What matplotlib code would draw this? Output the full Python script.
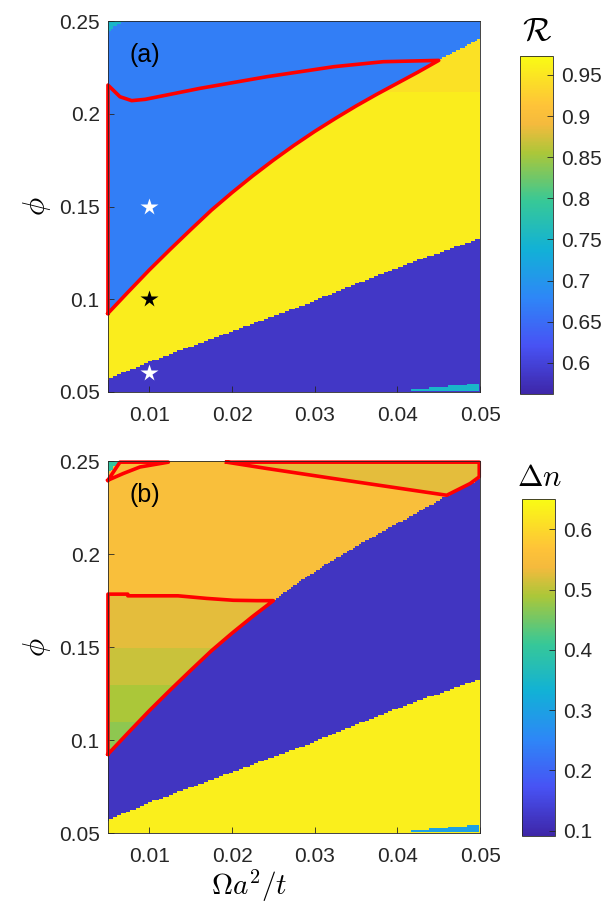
import numpy as np
import matplotlib
matplotlib.use('Agg')
import matplotlib.pyplot as plt
from matplotlib.colors import LinearSegmentedColormap
from matplotlib.path import Path

plt.rcParams['font.family'] = ['Liberation Sans', 'DejaVu Sans']
plt.rcParams['mathtext.fontset'] = 'cm'

# parula-like colormap
parula = LinearSegmentedColormap.from_list('parula', [
    (0.000, (0.2422, 0.1504, 0.6603)),
    (0.143, (0.2810, 0.3228, 0.9579)),
    (0.286, (0.1786, 0.5289, 0.9682)),
    (0.429, (0.0689, 0.6948, 0.8394)),
    (0.571, (0.2161, 0.7843, 0.5923)),
    (0.714, (0.6720, 0.7793, 0.2227)),
    (0.800, (0.9600, 0.7300, 0.2400)),
    (0.857, (0.9970, 0.7659, 0.2199)),
    (1.000, (0.9769, 0.9839, 0.0805))])

#%% data
omega = np.linspace(0.005, 0.05, 181)
phi = np.linspace(0.05, 0.25, 201)

# phase boundaries (same in both panels)
upper_x = [0.005, 0.0075, 0.01, 0.0125, 0.015, 0.0175, 0.02, 0.0225, 0.025, 0.0275,
           0.03, 0.0325, 0.035, 0.0375, 0.04, 0.0425, 0.045, 0.0475, 0.05]
upper_y = [0.0924, 0.1042, 0.1158, 0.1268, 0.1375, 0.148, 0.1575, 0.1665, 0.175, 0.183,
           0.1905, 0.1975, 0.2042, 0.2105, 0.2165, 0.2225, 0.2288, 0.2348, 0.2407]
lower_x = [0.005, 0.01, 0.01613, 0.022, 0.02823, 0.034, 0.0403, 0.045, 0.05]
lower_y = [0.0568, 0.0663, 0.0763, 0.086, 0.096, 0.1065, 0.1175, 0.125, 0.1329]

# panel (a): R per region
R_top = 0.67
R_mid = 0.958
R_mid_corner = 0.945   # orange-ish tint, top right of the yellow band
R_low = 0.585
R_corner = 0.75
strip_x = [0.0415, 0.0415, 0.045, 0.05, 0.05]
strip_y = [0.05, 0.0511, 0.0525, 0.0547, 0.05]
corner_x = [0.005, 0.005, 0.0058, 0.0072]
corner_y = [0.25, 0.2435, 0.2475, 0.25]

# panel (b): dn per region
dn_top = 0.553
dn_mid = 0.12
dn_low = 0.632
dn_strip = 0.30
dn_corner = 0.40
dn_box = 0.527
dn_tri = [0.527, 0.51, 0.49, 0.47]
tri_cut = [0.15, 0.13, 0.11]

# red contours (a): left edge, top edge, then back along the upper boundary
ca_top_x = [0.005, 0.005, 0.00645, 0.00787, 0.0095, 0.0161, 0.0242, 0.0323, 0.0383, 0.045]
ca_top_y = [0.0924, 0.2155, 0.2092, 0.2071, 0.2078, 0.2137, 0.22, 0.2254, 0.2281, 0.2288]
cb1_x = [0.005, 0.00645, 0.0123, 0.00887, 0.00685, 0.005]
cb1_y = [0.2398, 0.2495, 0.2495, 0.2469, 0.2434, 0.2398]
cb2_x = [0.01935, 0.0499, 0.0499, 0.0488, 0.04597, 0.03226, 0.0242, 0.01935]
cb2_y = [0.2495, 0.2495, 0.2416, 0.238, 0.2317, 0.2407, 0.2461, 0.2495]
cb3_top_x = [0.005, 0.005, 0.0074, 0.0074, 0.01347, 0.01694, 0.02016, 0.023, 0.025]
cb3_top_y = [0.0924, 0.1785, 0.1785, 0.1776, 0.1776, 0.1762, 0.1752, 0.175, 0.175]

n_a = upper_x.index(0.045)
ca_x = ca_top_x + upper_x[:n_a + 1][::-1]
ca_y = ca_top_y + upper_y[:n_a + 1][::-1]
n_b = upper_x.index(0.025)
cb3_x = cb3_top_x + upper_x[:n_b][::-1]
cb3_y = cb3_top_y + upper_y[:n_b][::-1]

#%% build maps
X, Y = np.meshgrid(omega, phi)
pts = np.column_stack([X.ravel(), Y.ravel()])

def inside(xs, ys):
    return Path(np.column_stack([xs, ys])).contains_points(pts).reshape(X.shape)

mid_mask = inside(lower_x + upper_x[::-1], lower_y + upper_y[::-1])
low_mask = inside(lower_x + [0.06, 0.06, 0.0], lower_y + [0.1329, 0.0, 0.0])
strip_mask = inside(strip_x, strip_y)
corner_mask = inside(corner_x, corner_y)

Ra = np.full(X.shape, R_top)
Ra[mid_mask] = R_mid
Ra[mid_mask & (Y > 0.212)] = R_mid_corner
Ra[low_mask] = R_low
Ra[strip_mask] = R_corner
Ra[corner_mask] = R_corner

Db = np.full(X.shape, dn_top)
Db[inside(cb2_x, cb2_y)] = dn_box
tri = inside(cb3_x, cb3_y)
Db[tri] = dn_tri[0]
for cut, val in zip(tri_cut, dn_tri[1:]):
    Db[tri & (Y < cut)] = val
Db[mid_mask] = dn_mid
Db[low_mask] = dn_low
Db[strip_mask] = dn_strip
Db[corner_mask] = dn_corner

#%% plot
fig = plt.figure(figsize=(6.1, 9.09), dpi=100)
ax_a = fig.add_axes([0.177, 0.5688, 0.610, 0.408])
ax_b = fig.add_axes([0.177, 0.0836, 0.610, 0.409])
cax_a = fig.add_axes([0.8525, 0.5662, 0.0541, 0.3722])
cax_b = fig.add_axes([0.8557, 0.0806, 0.0541, 0.3701])

ima = ax_a.pcolormesh(omega, phi, Ra, cmap=parula, vmin=0.5616, vmax=0.973, shading='nearest')
imb = ax_b.pcolormesh(omega, phi, Db, cmap=parula, vmin=0.0917, vmax=0.65, shading='nearest')

ax_a.plot(ca_x, ca_y, color='red', lw=2.6, clip_on=False, solid_joinstyle='round')
for cx, cy in [(cb1_x, cb1_y), (cb2_x, cb2_y), (cb3_x, cb3_y)]:
    ax_b.plot(cx, cy, color='red', lw=2.6, clip_on=False, solid_joinstyle='round')

ax_a.plot([0.01], [0.15], marker='*', color='white', ms=13, mec='none')
ax_a.plot([0.01], [0.10], marker='*', color='black', ms=13, mec='none')
ax_a.plot([0.01], [0.06], marker='*', color='white', ms=13, mec='none')

ax_a.text(0.0095, 0.2316, '(a)', fontsize=18, ha='center', va='center')
ax_b.text(0.0095, 0.2316, '(b)', fontsize=18, ha='center', va='center')

for ax in [ax_a, ax_b]:
    ax.set_xlim(0.005, 0.05)
    ax.set_ylim(0.05, 0.25)
    ax.set_xticks([0.01, 0.02, 0.03, 0.04, 0.05])
    ax.set_xticklabels(['0.01', '0.02', '0.03', '0.04', '0.05'])
    ax.set_yticks([0.05, 0.1, 0.15, 0.2, 0.25])
    ax.set_yticklabels(['0.05', '0.1', '0.15', '0.2', '0.25'])
    ax.tick_params(direction='in', length=4, width=0.6, labelsize=15, colors='#262626')
    ax.tick_params(axis='x', pad=10)
    ax.tick_params(axis='y', pad=6)
    for s in ax.spines.values():
        s.set_linewidth(0.6)
        s.set_color('#262626')
    ax.set_ylabel(r'$\phi$', fontsize=22, labelpad=4)

ax_b.set_xlabel(r'$\Omega a^2/t$', fontsize=21)
ax_b.xaxis.set_label_coords(0.38, -0.095)

cba = fig.colorbar(ima, cax=cax_a, ticks=[0.6, 0.65, 0.7, 0.75, 0.8, 0.85, 0.9, 0.95])
cba.ax.set_yticklabels(['0.6', '0.65', '0.7', '0.75', '0.8', '0.85', '0.9', '0.95'])
cbb = fig.colorbar(imb, cax=cax_b, ticks=[0.1, 0.2, 0.3, 0.4, 0.5, 0.6])
cbb.ax.set_yticklabels(['0.1', '0.2', '0.3', '0.4', '0.5', '0.6'])
for cb in [cba, cbb]:
    cb.ax.tick_params(direction='in', length=4, width=0.6, labelsize=15, colors='#262626', pad=6)
    cb.outline.set_linewidth(0.6)
    cb.outline.set_edgecolor('#262626')

fig.text(0.88, 0.966, r'$\mathcal{R}$', fontsize=24, ha='center', va='center')
fig.text(0.885, 0.474, r'$\Delta n$', fontsize=22, ha='center', va='center')

fig.savefig('out.png', dpi=100)
